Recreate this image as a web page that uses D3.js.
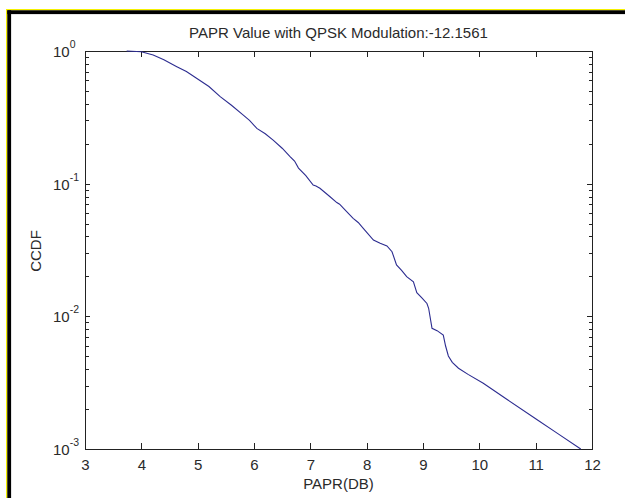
<!DOCTYPE html>
<html><head><meta charset="utf-8">
<script src="https://cdn.jsdelivr.net/npm/d3@7"></script>
<style>
html,body{margin:0;padding:0;background:#fff;}
svg{display:block;font-family:"Liberation Sans",Arial,sans-serif;}
</style></head>
<body>
<script>
const papr = [3.74, 4.00, 4.21, 4.40, 4.63, 4.80, 4.98, 5.20, 5.40, 5.60, 5.81, 5.92, 6.05, 6.20, 6.34, 6.50, 6.64, 6.72, 6.79, 6.92, 7.05, 7.10, 7.17, 7.35, 7.47, 7.52, 7.59, 7.76, 7.85, 7.94, 8.12, 8.24, 8.36, 8.45, 8.53, 8.62, 8.71, 8.83, 8.89, 8.98, 9.07, 9.10, 9.16, 9.25, 9.36, 9.40, 9.45, 9.52, 9.63, 9.80, 10.07, 10.50, 11.00, 11.40, 11.80];
const ccdf = [1.0, 0.988, 0.933, 0.86, 0.762, 0.70, 0.623, 0.54, 0.453, 0.39, 0.329, 0.300, 0.261, 0.238, 0.213, 0.185, 0.160, 0.148, 0.131, 0.115, 0.0977, 0.0960, 0.0923, 0.0797, 0.072, 0.0700, 0.0652, 0.0548, 0.0510, 0.0461, 0.0376, 0.0355, 0.0339, 0.0307, 0.0244, 0.0222, 0.0199, 0.0182, 0.0151, 0.0138, 0.0125, 0.0115, 0.00812, 0.0078, 0.00723, 0.0060, 0.00503, 0.00450, 0.00406, 0.00365, 0.00313, 0.00235, 0.00169, 0.00130, 0.00100];
const xTicks = [3, 4, 5, 6, 7, 8, 9, 10, 11, 12];
const yExps = [0, -1, -2, -3];
const titleText = "PAPR Value with QPSK Modulation:-12.1561";
const xLabel = "PAPR(DB)";
const yLabel = "CCDF";

const W = 625, H = 498;
const svg = d3.select("body").append("svg").attr("width", W).attr("height", H);
svg.append("rect").attr("width", W).attr("height", H).attr("fill", "#fff");
// borders
svg.append("rect").attr("x", 6).attr("y", 9).attr("width", W - 6).attr("height", 1.5).attr("fill", "#f5f000");
svg.append("rect").attr("x", 6).attr("y", 9).attr("width", 1.5).attr("height", H - 9).attr("fill", "#f5f000");
svg.append("rect").attr("x", 7.3).attr("y", 10.3).attr("width", W - 7.3).attr("height", 3.8).attr("fill", "#000");
svg.append("rect").attr("x", 7.3).attr("y", 10.3).attr("width", 3.8).attr("height", H - 10.3).attr("fill", "#000");

const L = 85, R = 592, T = 51, B = 449;
const x = d3.scaleLinear().domain([3, 12]).range([L, R]);
const y = d3.scaleLog().domain([1e-3, 1]).range([B, T]);

const axisColor = "#222";
const minor = [];
for (let e = -3; e < 0; e++) for (let m = 2; m <= 9; m++) minor.push(m * Math.pow(10, e));

const g = svg.append("g");
const xb = d3.axisBottom(x).tickValues(xTicks).tickSize(-6).tickFormat(d => d).tickPadding(10);
const xt = d3.axisTop(x).tickValues(xTicks).tickSize(-6).tickFormat("");
const yl = d3.axisLeft(y).tickValues(minor).tickSize(-3.5).tickFormat("");
const yr = d3.axisRight(y).tickValues(minor).tickSize(-3.5).tickFormat("");
const ylM = d3.axisLeft(y).tickValues(yExps.map(e => Math.pow(10, e))).tickSize(-5).tickFormat("");
const yrM = d3.axisRight(y).tickValues(yExps.map(e => Math.pow(10, e))).tickSize(-5).tickFormat("");

function style(sel) {
  sel.select(".domain").remove();
  sel.selectAll("line").attr("stroke", axisColor).attr("stroke-width", 1).attr("shape-rendering", "crispEdges");
  sel.selectAll("text").attr("fill", "#2a2a2a").attr("font-size", 15).attr("font-family", '"Liberation Sans",Arial,sans-serif');
}
g.append("g").attr("transform", `translate(0,${B})`).call(xb).call(style);
g.append("g").attr("transform", `translate(0,${T})`).call(xt).call(style);
g.append("g").attr("transform", `translate(${L},0)`).call(yl).call(style);
g.append("g").attr("transform", `translate(${R},0)`).call(yr).call(style);
g.append("g").attr("transform", `translate(${L},0)`).call(ylM).call(style);
g.append("g").attr("transform", `translate(${R},0)`).call(yrM).call(style);

svg.append("rect").attr("x", L).attr("y", T).attr("width", R - L).attr("height", B - T)
  .attr("fill", "none").attr("stroke", axisColor).attr("stroke-width", 1).attr("shape-rendering", "crispEdges");

yExps.forEach(e => {
  const yy = y(Math.pow(10, e));
  const t = svg.append("text").attr("x", 53).attr("y", yy + 6).attr("font-size", 15).attr("fill", "#2a2a2a");
  t.append("tspan").text("10");
  t.append("tspan").attr("dy", -9).attr("font-size", 10.5).text(e === 0 ? "0" : "-" + Math.abs(e));
});

const line = d3.line().x((d, i) => x(papr[i])).y((d, i) => y(ccdf[i]));
svg.append("path").datum(ccdf).attr("d", line).attr("fill", "none")
  .attr("stroke", "#2c2c90").attr("stroke-width", 1.1);

svg.append("text").attr("x", (L + R) / 2).attr("y", 37.5).attr("text-anchor", "middle")
  .attr("font-size", 15).attr("fill", "#2a2a2a").text(titleText);
svg.append("text").attr("x", (L + R) / 2).attr("y", 489).attr("text-anchor", "middle")
  .attr("font-size", 15).attr("fill", "#2a2a2a").text(xLabel);
svg.append("text").attr("transform", `translate(41,251) rotate(-90)`).attr("text-anchor", "middle")
  .attr("font-size", 15).attr("fill", "#2a2a2a").text(yLabel);
</script>
</body></html>
